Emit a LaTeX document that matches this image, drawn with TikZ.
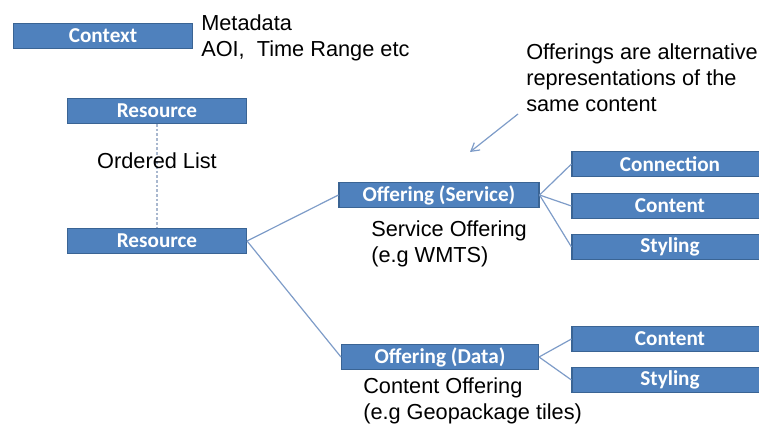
\documentclass[tikz,border=0pt]{standalone}
\usepackage{fontspec}
\setmainfont{Liberation Sans}
\newfontfamily\boxfont{Carlito}
\usetikzlibrary{positioning,arrows.meta}

\definecolor{boxblue}{HTML}{4F81BD}
\definecolor{boxedge}{HTML}{3A6494}
\definecolor{linkblue}{HTML}{7E9CC8}
\definecolor{listgrey}{HTML}{A9B8CF}

\begin{document}
\begin{tikzpicture}[x=0.75pt,y=-0.75pt,
    blockbox/.style={draw=boxedge,line width=0.8pt,fill=boxblue,text=white,
        font=\boxfont\bfseries\fontsize{15.9}{18}\selectfont,
        minimum height=25*0.75pt,inner sep=0pt},
    link/.style={draw=linkblue,line width=0.9pt},
    note/.style={align=left,inner sep=0pt,font=\fontsize{16.3}{19.5}\selectfont}]

\useasboundingbox (0,0) rectangle (759,424);

\def\rightboxwidth{196*0.75pt}

% context and metadata
\node (context) [blockbox,minimum width=179*0.75pt] at (103,36) {Context};
\node (metadata) [note,anchor=base west] at (201,57) {Metadata\\AOI,\ \ Time Range etc};

% ordered list of resources
\node (resourcetop) [blockbox,minimum width=179*0.75pt] at (157,111) {Resource};
\node (resource) [blockbox,minimum width=179*0.75pt] at (157,241) {Resource};
\draw [draw=listgrey,line width=0.8pt,dash pattern=on 2pt off 1.5pt] (resourcetop) -- (resource);
\node (orderedlist) [note,anchor=base] at (157,168) {Ordered List};

% offerings
\node (offservice) [blockbox,minimum width=200*0.75pt] at (439,195) {Offering (Service)};
\node (offdata) [blockbox,minimum width=197*0.75pt] at (440,357) {Offering (Data)};
\node (servicetxt) [note,anchor=base west] at (371,262) {Service Offering\\(e.g WMTS)};
\node (contenttxt) [note,anchor=base west] at (363,419) {Content Offering\\(e.g Geopackage tiles)};

\draw [link] (resource.east) -- (offservice.west);
\draw [link] (resource.east) -- (offdata.west);

% parts of the service offering
\node (connection) [blockbox,minimum width=\rightboxwidth] at (670,164) {Connection};
\node (scontent) [blockbox,minimum width=\rightboxwidth] at (670,206) {Content};
\node (sstyling) [blockbox,minimum width=\rightboxwidth] at (670,247) {Styling};
\foreach \part in {connection,scontent,sstyling}
    \draw [link] (offservice.east) -- (\part.west);

% parts of the data offering
\node (dcontent) [blockbox,minimum width=\rightboxwidth] at (670,339) {Content};
\node (dstyling) [blockbox,minimum width=\rightboxwidth] at (670,380) {Styling};
\foreach \part in {dcontent,dstyling}
    \draw [link] (offdata.east) -- (\part.west);

% remark on offerings
\node (remark) [note,anchor=base west] at (526,112) {Offerings are alternative\\representations of the\\same content};
\coordinate (remarkfoot) at (518,114);
\coordinate (remarktip) at (470,152);
\draw [link,-{Straight Barb[length=6pt,width=7pt]}] (remarkfoot) -- (remarktip);

\end{tikzpicture}
\end{document}
